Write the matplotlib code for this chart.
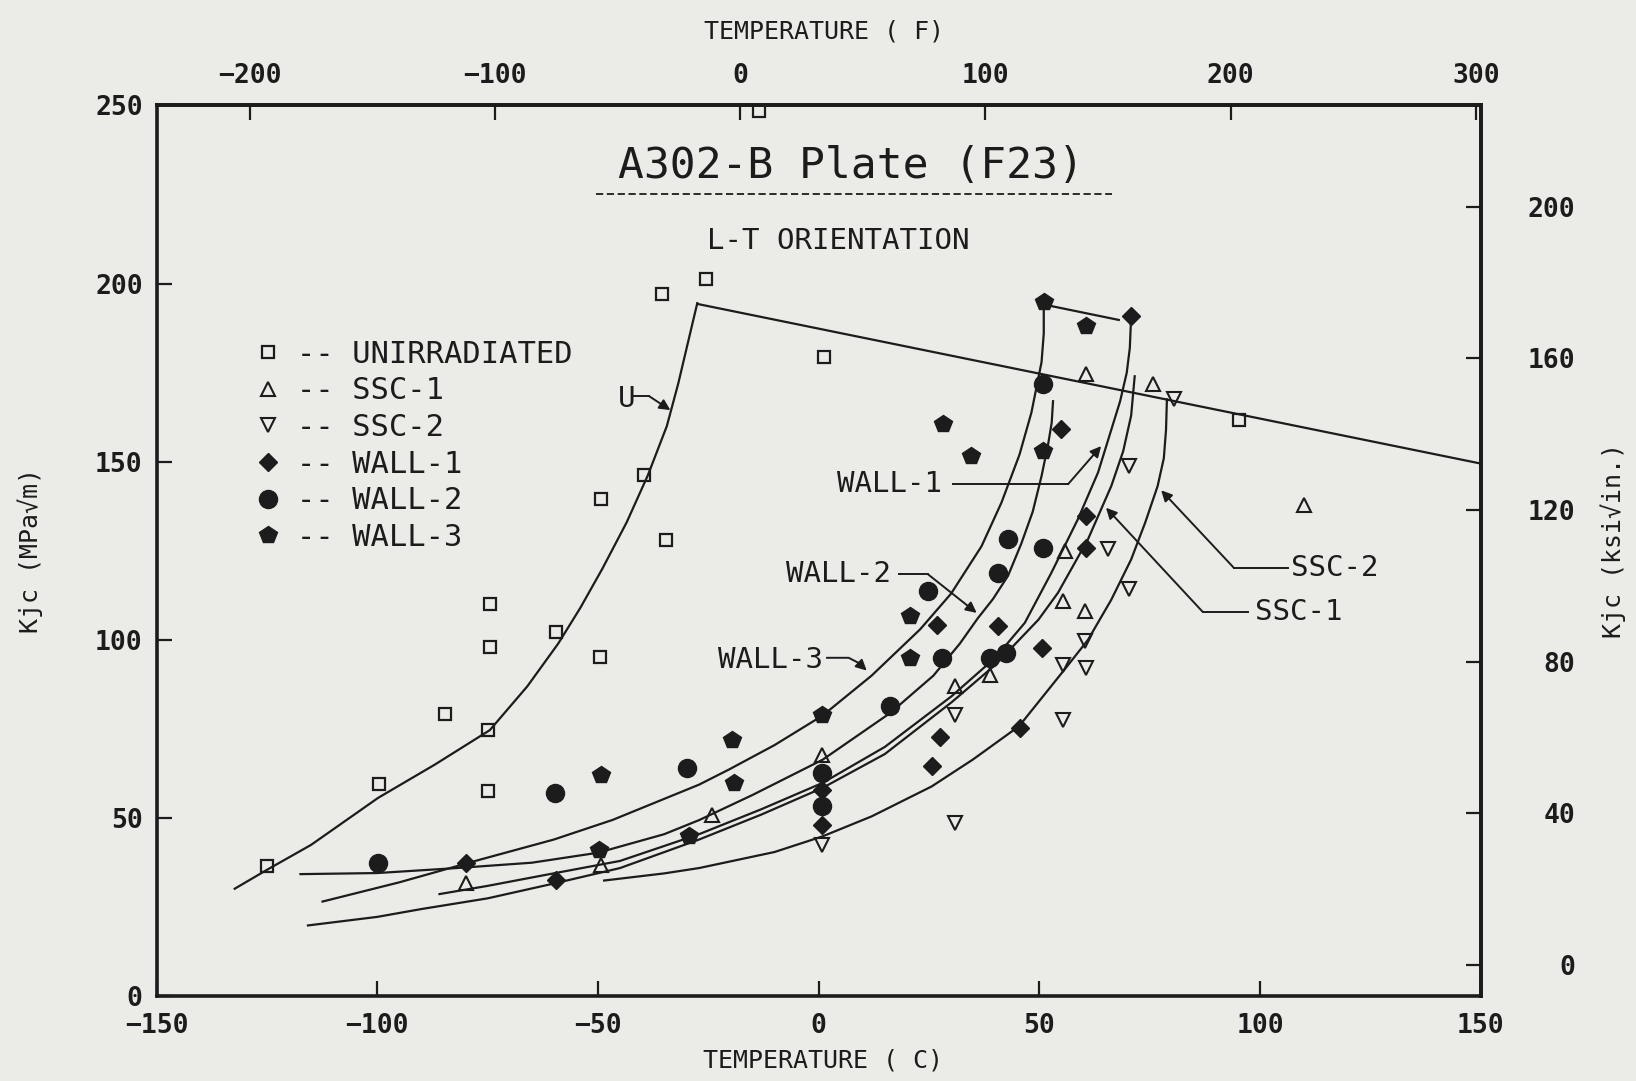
import matplotlib
matplotlib.use("Agg")
import matplotlib.pyplot as plt
import numpy as np

plt.rcParams['font.family'] = ['DejaVu Sans Mono', 'DejaVu Sans']

INK = '#1c1c1c'
PAPER = '#ebebe8'

# ---- measured data (temperature C, Kjc MPa*sqrt(m)) ----
unirr_T = [-125, -99.7, -84.6, -74.5, -74.5, -74.8, -74.8, -59.4, -49.6, -49.3,
           -39.5, -34.6, -35.4, -25.6, 1.1, 95.3, -13.5]
unirr_K = [36.5, 59.7, 79.1, 110, 98, 74.8, 57.5, 102.2, 95.2, 139.5,
           146.2, 128, 197, 201.2, 179.4, 161.8, 248.5]

ssc1_T = [-79.9, -49.4, -24.1, 0.7, 30.9, 38.8, 55.4, 55.7, 60.3, 60.6, 75.7, 109.9]
ssc1_K = [31.8, 36.9, 51, 67.8, 87, 90.3, 110.9, 124.9, 108.1, 174.5, 171.7, 138]

ssc2_T = [0.7, 30.9, 30.9, 55.4, 55.4, 60.3, 60.6, 65.5, 70.4, 70.4, 80.6]
ssc2_K = [42.5, 79, 48.6, 93.1, 77.6, 99.6, 92.2, 125.4, 114.3, 148.8, 167.5]

wall1_T = [-79.9, -59.5, 0.7, 0.7, 25.6, 27.5, 26.7, 40.7, 45.6, 50.5, 55, 60.6, 60.6, 70.8]
wall1_K = [37.4, 32.7, 58, 48.1, 64.5, 72.9, 104.3, 103.9, 75.3, 97.8, 159.1, 134.7, 125.9, 190.9]

wall2_T = [-99.8, -59.7, -29.9, 0.7, 0.7, 16.2, 24.8, 27.9, 38.8, 42.5, 40.7, 42.9, 50.8, 50.8]
wall2_K = [37.5, 57.1, 64, 62.7, 53.3, 81.4, 113.7, 95, 95, 96.4, 118.8, 128.2, 125.9, 171.7]

wall3_T = [-49.8, -49.4, -29.4, -19.6, -19.2, 0.7, 20.7, 20.7, 28.2, 34.6, 50.8, 51, 60.6]
wall3_K = [41.2, 62.2, 45.1, 72, 59.8, 79, 106.7, 95, 160.5, 151.6, 153, 194.7, 188.1]

# ---- fitted curves ----
u_curve_T = [-132.3, -125, -115, -99.8, -87, -74.5, -66, -59, -54, -49, -43.5,
             -38.7, -34.4, -31.8, -29.7, -27.5]
u_curve_K = [30.2, 35.5, 42.5, 55.7, 65, 74.7, 87, 99, 109, 120, 133,
             146.2, 160, 172, 183, 194.5]

shelf_T = [-27.5, 150]
shelf_K = [194.3, 149.5]

irr_shelf_T = [51.5, 68]
irr_shelf_K = [194, 189.8]

w3_curve_T = [-112.4, -95, -76.9, -60, -46.7, -27.1, -20.4, -10, 0.9, 12, 23, 30,
              36.9, 41.4, 45.5, 48.2, 50.5, 51, 51]
w3_curve_K = [26.6, 32, 38.3, 44, 49.5, 59.4, 63.6, 70.5, 78.8, 90, 103, 113,
              126.3, 138.5, 152, 163.8, 178, 186, 195]

w2_curve_T = [-117.4, -100, -82, -65, -50, -35, -27, -15, 0.9, 16.2, 26, 32, 36,
              39.5, 42.9, 45.9, 48.5, 50.5, 52, 52.8, 53.1]
w2_curve_K = [34.3, 34.6, 36, 37.5, 40.3, 45.5, 49.5, 56.5, 66.4, 79.5, 90, 99, 106,
              111.5, 118, 127, 136, 146, 155, 161, 167]

w1_curve_T = [-85.9, -75, -61.8, -45, -27.1, -13, 0.9, 15, 30.1, 40, 46.7, 52.7,
              58.7, 63.3, 66.3, 68.3, 69.8, 70.5, 70.8]
w1_curve_K = [28.7, 31, 34.1, 38, 45.5, 52.5, 59.9, 70, 84.2, 95, 104.8, 118.8,
              133.8, 147, 159, 167, 175, 182, 190.9]

s1_curve_T = [-115.7, -100, -90, -75, -59.5, -45, -27.1, -13, 0.9, 15, 30.1, 40,
              49.8, 54.2, 61, 66.3, 69, 70.8, 71.6]
s1_curve_K = [19.9, 22.3, 24.5, 27.5, 31.8, 36, 44, 51, 58.5, 68, 82.5, 93,
              105.7, 113.2, 128.2, 143.2, 153, 163, 174]

s2_curve_T = [-48.6, -35, -27.1, -10, 0.9, 12, 25.6, 35, 45.4, 55.7, 61, 66.3,
              70.8, 74, 76.8, 78.2, 78.7, 78.9]
s2_curve_K = [32.5, 34.5, 36, 40.5, 44.9, 50.5, 58.9, 66.5, 75.8, 91.7, 100, 111.3,
              122.6, 133, 143.2, 151, 159, 167.5]

legend_labels = ['-- UNIRRADIATED', '-- SSC-1', '-- SSC-2',
                 '-- WALL-1', '-- WALL-2', '-- WALL-3']


def c2f(t):
    return t * 1.8 + 32


def f2c(f):
    return (f - 32) / 1.8


# right axis as printed on the original sheet
def mpa2ksi(k):
    return 0.940 * k - 8.26


def ksi2mpa(k):
    return (k + 8.26) / 0.940


fig = plt.figure(figsize=(16.36, 10.81), dpi=100, facecolor=PAPER)
ax = fig.add_axes([0.0957, 0.0783, 0.8094, 0.8242], facecolor=PAPER)

ax.set_xlim(-150, 150)
ax.set_ylim(0, 250)
ax.set_xticks(np.arange(-150, 151, 50))
ax.set_yticks(np.arange(0, 251, 50))
ax.tick_params(direction='in', length=11, width=1.6, labelsize=19, pad=12,
               colors=INK, top=False, right=False)
ax.tick_params(axis='y', pad=10)
for lab in ax.get_xticklabels() + ax.get_yticklabels():
    lab.set_fontweight('bold')
for s in ax.spines.values():
    s.set_linewidth(2.6)
    s.set_color(INK)

# curves
lw = 1.6
for T, K in [(u_curve_T, u_curve_K), (shelf_T, shelf_K), (irr_shelf_T, irr_shelf_K),
             (w3_curve_T, w3_curve_K), (w2_curve_T, w2_curve_K),
             (w1_curve_T, w1_curve_K), (s1_curve_T, s1_curve_K),
             (s2_curve_T, s2_curve_K)]:
    ax.plot(T, K, color=INK, lw=lw, solid_joinstyle='round', zorder=2)

# data points
h_un, = ax.plot(unirr_T, unirr_K, ls='none', marker='s', ms=8.5, mfc='none',
                mec=INK, mew=1.6, zorder=3)
h_s1, = ax.plot(ssc1_T, ssc1_K, ls='none', marker='^', ms=10, mfc='none',
                mec=INK, mew=1.5, zorder=3)
h_s2, = ax.plot(ssc2_T, ssc2_K, ls='none', marker='v', ms=10, mfc='none',
                mec=INK, mew=1.5, zorder=3)
h_w1, = ax.plot(wall1_T, wall1_K, ls='none', marker='D', ms=9, mfc=INK,
                mec=INK, zorder=3)
h_w2, = ax.plot(wall2_T, wall2_K, ls='none', marker='o', ms=13, mfc=INK,
                mec=INK, zorder=3)
h_w3, = ax.plot(wall3_T, wall3_K, ls='none', marker='p', ms=13, mfc=INK,
                mec=INK, zorder=3)

ax.legend([h_un, h_s1, h_s2, h_w1, h_w2, h_w3], legend_labels,
          loc='upper left', bbox_to_anchor=(0.0727, 0.737), frameon=False,
          fontsize=22, handlelength=1.0, handletextpad=0.45, labelspacing=0.25,
          borderpad=0, borderaxespad=0, labelcolor=INK)

# titles
ax.text(7.4, 233, 'A302-B Plate (F23)', fontsize=31, ha='center', va='center',
        color=INK)
ax.plot([-50.5, 66.5], [225.1, 225.1], color=INK, lw=1.3, ls=(0, (4, 2)))
ax.text(4.5, 212, 'L-T ORIENTATION', fontsize=21, ha='center', va='center',
        color=INK)


def leader(pts, label, tx, ty, ha):
    xs = [p[0] for p in pts]
    ys = [p[1] for p in pts]
    ax.plot(xs[:-1], ys[:-1], color=INK, lw=1.4, zorder=2)
    ax.annotate('', xy=pts[-1], xytext=pts[-2],
                arrowprops=dict(arrowstyle='-|>', color=INK, lw=1.4,
                                mutation_scale=16, shrinkA=0, shrinkB=0))
    ax.text(tx, ty, label, fontsize=21, ha=ha, va='center', color=INK)


leader([(-41.8, 168.4), (-38.4, 168.4), (-33.6, 164.5)], 'U', -41.5, 167.5, 'right')
leader([(30.5, 143.7), (56.5, 143.7), (64, 154.4)], 'WALL-1', 28, 143.7, 'right')
leader([(18.1, 118.4), (24.8, 118.4), (35.8, 107.6)], 'WALL-2', 16.3, 118.4, 'right')
leader([(1.9, 95.0), (6.8, 95.0), (9.0, 93.6), (10.9, 91.4)], 'WALL-3', 1.0, 94.5, 'right')
leader([(106.4, 120.2), (94.1, 120.2), (77.6, 142)], 'SSC-2', 107.1, 120.2, 'left')
leader([(97.2, 107.9), (87, 107.9), (65.1, 137.1)], 'SSC-1', 98.8, 107.9, 'left')

ax.set_xlabel('TEMPERATURE ( C)', fontsize=18, color=INK)
ax.xaxis.set_label_coords(0.503, -0.0586)
ax.set_ylabel('Kjc (MPa\u221am)', fontsize=18, color=INK)
ax.yaxis.set_label_coords(-0.0857, 0.5)

# top axis in Fahrenheit
secx = ax.secondary_xaxis('top', functions=(c2f, f2c))
secx.set_xticks(np.arange(-200, 301, 100))
secx.tick_params(direction='in', length=11, width=1.6, labelsize=19, pad=12,
                 colors=INK)
for lab in secx.get_xticklabels():
    lab.set_fontweight('bold')
secx.spines['top'].set_linewidth(2.6)
secx.set_xlabel('TEMPERATURE ( F)', fontsize=18, color=INK)
secx.xaxis.set_label_coords(0.504, 1.075, transform=ax.transAxes)

# right axis in ksi*sqrt(in)
secy = ax.secondary_yaxis('right', functions=(mpa2ksi, ksi2mpa))
secy.set_yticks(np.arange(0, 201, 40))
secy.tick_params(direction='in', length=11, width=1.6, labelsize=19, pad=68,
                 colors=INK)
for lab in secy.get_yticklabels():
    lab.set_horizontalalignment('right')
    lab.set_fontweight('bold')
secy.spines['right'].set_linewidth(2.6)
secy.set_ylabel('Kjc (ksi\u221ain.)', fontsize=18, color=INK)
secy.yaxis.set_label_coords(1.0902, 0.512, transform=ax.transAxes)

fig.savefig('out.png', dpi=100, facecolor=PAPER)
